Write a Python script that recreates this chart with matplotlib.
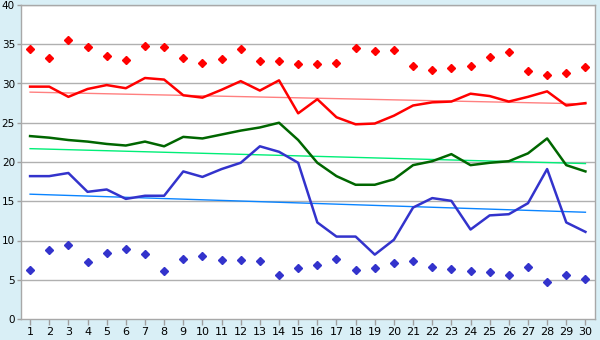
import numpy as np
import matplotlib
matplotlib.use("Agg")
import matplotlib.pyplot as plt

days = list(range(1, 31))
red_line = [29.6, 29.6, 28.3, 29.3, 29.8, 29.4, 30.7, 30.5, 28.5, 28.2,
            29.2, 30.3, 29.1, 30.4, 26.2, 28.0, 25.7, 24.8, 24.9, 25.9,
            27.2, 27.6, 27.7, 28.7, 28.4, 27.7, 28.3, 29.0, 27.2, 27.5]
green_line = [23.3, 23.1, 22.8, 22.6, 22.3, 22.1, 22.6, 22.0, 23.2, 23.0,
              23.5, 24.0, 24.4, 25.0, 22.8, 19.9, 18.2, 17.1, 17.1, 17.8,
              19.6, 20.1, 21.0, 19.6, 19.9, 20.1, 21.1, 23.0, 19.6, 18.8]
blue_line = [18.2, 18.2, 18.6, 16.2, 16.5, 15.3, 15.7, 15.7, 18.8, 18.1,
             19.1, 19.9, 22.0, 21.3, 19.9, 12.3, 10.5, 10.5, 8.2, 10.1,
             14.2, 15.4, 15.05, 11.4, 13.2, 13.35, 14.75, 19.1, 12.3, 11.1]
red_points = [34.4, 33.2, 35.5, 34.6, 33.5, 33.0, 34.8, 34.6, 33.2, 32.65,
              33.1, 34.4, 32.9, 32.9, 32.5, 32.5, 32.6, 34.5, 34.1, 34.3,
              32.2, 31.7, 32.0, 32.2, 33.4, 34.0, 31.6, 31.1, 31.3, 32.1]
blue_points = [6.2, 8.8, 9.4, 7.2, 8.4, 8.9, 8.25, 6.1, 7.7, 8.0,
               7.5, 7.5, 7.35, 5.6, 6.5, 6.85, 7.7, 6.2, 6.5, 7.1,
               7.35, 6.6, 6.35, 6.1, 5.95, 5.6, 6.6, 4.7, 5.6, 5.05]
# trend lines: value at day 1 and day 30
red_trend = [28.9, 27.4]
green_trend = [21.7, 19.8]
blue_trend = [15.9, 13.6]
trend_days = [days[0], days[-1]]

fig = plt.figure(figsize=(6, 3.4), dpi=100, facecolor="#d9eff6")
ax = fig.add_axes([20.5 / 600, 21 / 340, 574.5 / 600, 314 / 340])
ax.set_facecolor("white")

for v in range(5, 41, 5):
    ax.axhline(v, color="#b0b0b0", lw=1, zorder=1)

ax.plot(trend_days, red_trend, color="#ff8080", lw=1, zorder=2)
ax.plot(trend_days, green_trend, color="#00ee77", lw=1, zorder=2)
ax.plot(trend_days, blue_trend, color="#0a84ff", lw=1, zorder=2)

ax.plot(days, red_line, color="#ff0000", lw=1.8, zorder=3)
ax.plot(days, green_line, color="#006600", lw=1.8, zorder=3)
ax.plot(days, blue_line, color="#3333cc", lw=1.8, zorder=3)
ax.plot(days, red_points, ls="none", marker="D", ms=3.6, color="#ff0000", zorder=4)
ax.plot(days, blue_points, ls="none", marker="D", ms=3.6, color="#3333cc", zorder=4)

ax.set_xlim(0.5, 30.5)
ax.set_ylim(0, 40)
ax.set_xticks(days)
ax.set_yticks(range(0, 41, 5))
ax.tick_params(axis="x", labelsize=8, length=4, width=1, pad=2, color="#a0a0a0")
ax.tick_params(axis="y", labelsize=7.5, length=3, width=1, pad=1, color="#a0a0a0")
for s in ax.spines.values():
    s.set_color("#a8a8a8")
    s.set_linewidth(1)

fig.savefig("out.png", dpi=100, facecolor=fig.get_facecolor())
